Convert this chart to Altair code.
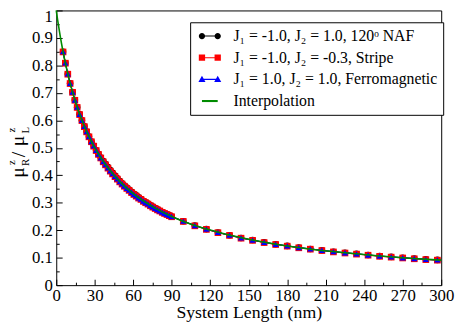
import altair as alt
import pandas as pd

# ---------------- data ----------------
length_nm = [5.3, 7.1, 9.0, 10.8, 12.7, 14.5, 16.3, 18.2, 20.0, 21.9, 23.7, 25.5,
             27.4, 29.2, 31.1, 32.9, 34.7, 36.6, 38.4, 40.3, 42.1, 43.9, 45.8, 47.6,
             49.5, 51.3, 53.1, 55.0, 56.8, 58.7, 60.5, 62.3, 64.2, 66.0, 67.9, 69.7,
             71.5, 73.4, 75.2, 77.1, 78.9, 80.7, 82.6, 84.4, 86.3, 88.1, 89.9,
             99, 108, 117, 126, 135, 144, 153, 162, 171, 180, 189, 198, 207, 216,
             225, 234, 243, 252, 261, 270, 279, 288, 297]

ratio_naf = [0.850, 0.809, 0.769, 0.735, 0.703, 0.674, 0.648, 0.622, 0.600, 0.578, 0.559, 0.541,
             0.523, 0.507, 0.491, 0.477, 0.465, 0.452, 0.441, 0.430, 0.419, 0.409, 0.399, 0.389,
             0.379, 0.371, 0.363, 0.355, 0.348, 0.340, 0.333, 0.327, 0.320, 0.314, 0.307, 0.302,
             0.297, 0.291, 0.286, 0.281, 0.276, 0.271, 0.266, 0.262, 0.258, 0.254, 0.250,
             0.233, 0.217, 0.204, 0.192, 0.182, 0.172, 0.164, 0.156, 0.149, 0.143, 0.137,
             0.132, 0.127, 0.122, 0.118, 0.114, 0.110, 0.106, 0.103, 0.100, 0.097, 0.094, 0.092]

ratio_stripe = [0.849, 0.808, 0.768, 0.734, 0.702, 0.673, 0.647, 0.621, 0.599, 0.577, 0.558, 0.540,
                0.522, 0.506, 0.490, 0.476, 0.463, 0.449, 0.438, 0.426, 0.415, 0.405, 0.395, 0.386,
                0.376, 0.368, 0.360, 0.352, 0.345, 0.337, 0.330, 0.324, 0.317, 0.312, 0.305, 0.300,
                0.295, 0.289, 0.284, 0.279, 0.274, 0.270, 0.265, 0.261, 0.257, 0.253, 0.249,
                0.232, 0.216, 0.203, 0.191, 0.181, 0.171, 0.163, 0.155, 0.148, 0.142, 0.136,
                0.131, 0.126, 0.121, 0.117, 0.113, 0.109, 0.105, 0.102, 0.099, 0.096, 0.093, 0.091]

ratio_ferro = [0.850, 0.809, 0.769, 0.735, 0.703, 0.674, 0.648, 0.622, 0.600, 0.578, 0.559, 0.541,
               0.523, 0.507, 0.491, 0.477, 0.464, 0.450, 0.439, 0.427, 0.416, 0.406, 0.396, 0.387,
               0.377, 0.369, 0.361, 0.353, 0.346, 0.338, 0.331, 0.325, 0.318, 0.313, 0.306, 0.301,
               0.296, 0.290, 0.285, 0.280, 0.275, 0.271, 0.266, 0.262, 0.258, 0.254, 0.250,
               0.233, 0.217, 0.204, 0.192, 0.182, 0.172, 0.164, 0.156, 0.149, 0.143, 0.137,
               0.132, 0.127, 0.122, 0.118, 0.114, 0.110, 0.106, 0.103, 0.100, 0.097, 0.094, 0.092]

interp_length = [0, 1, 2, 3, 5, 7.5, 10, 15, 20, 25, 30, 40, 50, 60, 75, 90,
                 110, 130, 150, 175, 200, 225, 250, 275, 300]
interp_ratio = [1.000, 0.968, 0.938, 0.909, 0.857, 0.800, 0.750, 0.667, 0.600, 0.545,
                0.500, 0.429, 0.375, 0.333, 0.286, 0.250, 0.214, 0.188, 0.167, 0.146,
                0.130, 0.118, 0.107, 0.098, 0.091]

series_names = ["J₁ = -1.0, J₂ = 1.0, 120ᵒ NAF",
                "J₁ = -1.0, J₂ = -0.3, Stripe",
                "J₁ = 1.0, J₂ = 1.0, Ferromagnetic",
                "Interpolation"]

x_major = [0, 30, 60, 90, 120, 150, 180, 210, 240, 270, 300]
x_minor = [15, 45, 75, 105, 135, 165, 195, 225, 255, 285]
y_major = [0, 0.1, 0.2, 0.3, 0.4, 0.5, 0.6, 0.7, 0.8, 0.9, 1.0]
y_minor = [0.05, 0.15, 0.25, 0.35, 0.45, 0.55, 0.65, 0.75, 0.85, 0.95]

# ---------------- styling ----------------
SERIF = "Liberation Serif"
W, H = 391, 279
colors = ["#000000", "#ff0000", "#0000ff", "#008b00"]


def circ(cx, r=0.8):
    return f"M{cx - r},0A{r},{r} 0 1,1 {cx + r},0A{r},{r} 0 1,1 {cx - r},0Z"


def sq(cx, r=0.8):
    return f"M{cx - r},{-r}L{cx + r},{-r}L{cx + r},{r}L{cx - r},{r}Z"


def tri(cx, r=0.9):
    return f"M{cx},{-r}L{cx + r},{0.75 * r}L{cx - r},{0.75 * r}Z"


def bar(t):
    return f"M-2,{-t}L2,{-t}L2,{t}L-2,{t}Z"


legend_shapes = [bar(0.13) + circ(-2) + circ(2),
                 bar(0.13) + sq(-2) + sq(2),
                 bar(0.13) + tri(-2) + tri(2),
                 bar(0.26)]

xs = alt.Scale(domain=[0, 300], nice=False, zero=False)
ys = alt.Scale(domain=[0, 1], nice=False, zero=False)

main_x_axis = alt.Axis(orient="bottom", values=x_major, ticks=False, domain=False, grid=False,
                       labelFont=SERIF, labelFontSize=17, labelColor="black", labelPadding=3,
                       labelFlush=False, labelOverlap=False,
                       title="System Length (nm)", titleFont=SERIF, titleFontSize=18,
                       titleFontWeight="normal", titleColor="black", titlePadding=0)
main_y_axis = alt.Axis(orient="left", values=y_major, ticks=False, domain=False, grid=False,
                       labelFont=SERIF, labelFontSize=17, labelColor="black", labelPadding=4,
                       labelFlush=False, labelOverlap=False,
                       labelExpr="datum.value == 0 ? '0' : (datum.value == 1 ? '1' : format(datum.value, '.1f'))",
                       labelOffset={"condition": {"test": "datum.value == 1", "value": 6}, "value": 0},
                       title=None)


def tick_axes(xvals, yvals, size):
    ax = alt.Axis(orient="top", offset=-H, values=xvals, labels=False, domain=False, grid=False,
                  tickSize=size, tickColor="black", tickWidth=1, title=None)
    ay = alt.Axis(orient="right", offset=-W, values=yvals, labels=False, domain=False, grid=False,
                  tickSize=size, tickColor="black", tickWidth=1, title=None)
    return ax, ay


def enc(xaxis, yaxis):
    return dict(x=alt.X("length:Q", scale=xs, axis=xaxis),
                y=alt.Y("ratio:Q", scale=ys, axis=yaxis))


df_naf = pd.DataFrame({"length": length_nm, "ratio": ratio_naf})
df_stripe = pd.DataFrame({"length": length_nm, "ratio": ratio_stripe})
df_ferro = pd.DataFrame({"length": length_nm, "ratio": ratio_ferro})
df_interp = pd.DataFrame({"length": interp_length, "ratio": interp_ratio})

maj_x, maj_y = tick_axes(x_major, y_major, 6)
min_x, min_y = tick_axes(x_minor, y_minor, 3)

naf_line = alt.Chart(df_naf).mark_line(color=colors[0], strokeWidth=1).encode(**enc(main_x_axis, main_y_axis))
naf_pts = alt.Chart(df_naf).mark_point(shape="circle", filled=True, size=44, opacity=1,
                                        color=colors[0]).encode(**enc(None, None))
str_line = alt.Chart(df_stripe).mark_line(color=colors[1], strokeWidth=1).encode(**enc(maj_x, maj_y))
str_pts = alt.Chart(df_stripe).mark_point(shape="square", filled=True, size=46, opacity=1,
                                           color=colors[1]).encode(**enc(None, None))
fer_line = alt.Chart(df_ferro).mark_line(color=colors[2], strokeWidth=1).encode(**enc(min_x, min_y))
fer_pts = alt.Chart(df_ferro).mark_point(shape="triangle-up", filled=True, size=40, opacity=1,
                                          color=colors[2]).encode(**enc(None, None))
interp = alt.Chart(df_interp).mark_line(color=colors[3], strokeWidth=1.6,
                                        interpolate="monotone").encode(**enc(None, None))

legend_props = dict(title=None, orient="none", legendX=136, legendY=12,
                    strokeColor="black", fillColor="white", padding=6, cornerRadius=0,
                    labelFont=SERIF, labelFontSize=16, labelColor="black", labelLimit=400,
                    rowPadding=6, symbolSize=64, symbolStrokeWidth=0,
                    symbolOffset=6, labelOffset=16)
legend_layer = alt.Chart(pd.DataFrame({"series": series_names})).transform_filter("false").mark_point(
    filled=True, opacity=1).encode(
    color=alt.Color("series:N", scale=alt.Scale(domain=series_names, range=colors),
                    legend=alt.Legend(**legend_props)),
    shape=alt.Shape("series:N", scale=alt.Scale(domain=series_names, range=legend_shapes),
                    legend=alt.Legend(**legend_props)))

# y-axis title  mu_R^z / mu_L^z  assembled from rotated pieces
title_pieces = [("μ", -33, 170, 20), ("R", -28, 158, 11), ("z", -42, 157, 11),
                ("/", -32, 149, 20), ("μ", -33, 138, 20), ("L", -28, 125, 11),
                ("z", -42, 124, 11)]
one = pd.DataFrame({"a": [0]})
title_layers = [
    alt.Chart(one).mark_text(text=t, font=SERIF, fontSize=fs, angle=270, align="left",
                             baseline="alphabetic", color="black").encode(
        x=alt.value(px), y=alt.value(py))
    for (t, px, py, fs) in title_pieces
]

chart = alt.layer(naf_line, naf_pts, str_line, str_pts, fer_line, fer_pts, interp,
                  legend_layer, *title_layers).resolve_axis(
    x="independent", y="independent").properties(
    width=W, height=H,
    autosize=alt.AutoSizeParams(type="none"),
    padding={"left": 49, "top": 0, "right": 14, "bottom": 40},
).configure_view(stroke="black", strokeWidth=1)

chart.save("out.html", embed_options={"renderer": "svg", "actions": False})
